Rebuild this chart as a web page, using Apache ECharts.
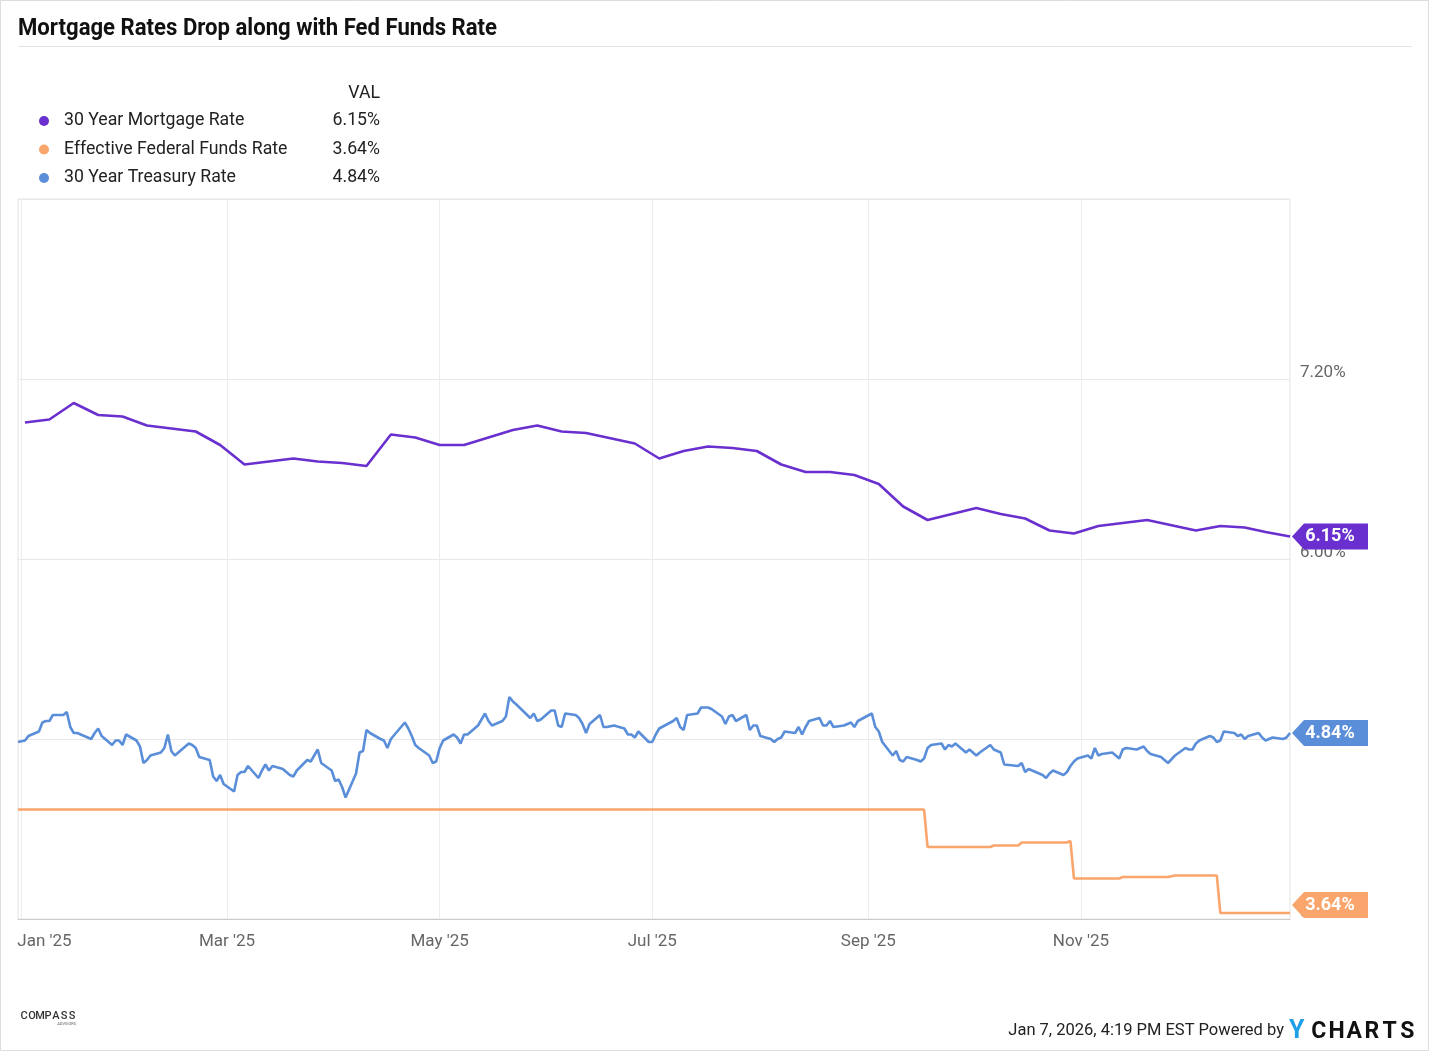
<!DOCTYPE html>
<html>
<head>
<meta charset="utf-8">
<script src="https://cdn.jsdelivr.net/npm/echarts@6/dist/echarts.min.js"></script>
<style>html,body{margin:0;padding:0;background:#fff}#c{width:1430px;height:1052px}</style>
</head>
<body>
<div id="c"></div>
<script>
// ---------------- DATA ----------------
const seriesNames = ['30 Year Mortgage Rate', 'Effective Federal Funds Rate', '30 Year Treasury Rate'];

const mortgageDates = [
 '2025-01-02','2025-01-09','2025-01-16','2025-01-23','2025-01-30',
 '2025-02-06','2025-02-13','2025-02-20','2025-02-27',
 '2025-03-06','2025-03-13','2025-03-20','2025-03-27',
 '2025-04-03','2025-04-10','2025-04-17','2025-04-24',
 '2025-05-01','2025-05-08','2025-05-15','2025-05-22','2025-05-29',
 '2025-06-05','2025-06-12','2025-06-18','2025-06-26',
 '2025-07-03','2025-07-10','2025-07-17','2025-07-24','2025-07-31',
 '2025-08-07','2025-08-14','2025-08-21','2025-08-28',
 '2025-09-04','2025-09-11','2025-09-18','2025-09-25',
 '2025-10-02','2025-10-09','2025-10-16','2025-10-23','2025-10-30',
 '2025-11-06','2025-11-13','2025-11-20','2025-11-26',
 '2025-12-04','2025-12-11','2025-12-18','2025-12-24','2025-12-31'
];
const mortgageValues = [
 6.91,6.93,7.04,6.96,6.95,
 6.89,6.87,6.85,6.76,
 6.63,6.65,6.67,6.65,
 6.64,6.62,6.83,6.81,
 6.76,6.76,6.81,6.86,6.89,
 6.85,6.84,6.81,6.77,
 6.67,6.72,6.75,6.74,6.72,
 6.63,6.58,6.58,6.56,
 6.50,6.35,6.26,6.30,
 6.34,6.30,6.27,6.19,6.17,
 6.22,6.24,6.26,6.23,
 6.19,6.22,6.21,6.18,6.15
];

const fedFundsPoints = [
 ['2024-12-31',4.33],['2025-09-17',4.33],['2025-09-18',4.08],['2025-10-06',4.08],
 ['2025-10-07',4.09],['2025-10-14',4.09],['2025-10-15',4.11],['2025-10-28',4.11],
 ['2025-10-29',4.12],['2025-10-30',3.87],['2025-11-12',3.87],['2025-11-13',3.88],
 ['2025-11-26',3.88],['2025-11-28',3.89],['2025-12-10',3.89],['2025-12-11',3.64],
 ['2025-12-31',3.64]
];

const treasuryPoints = [
 ['2024-12-31',4.78],
 ['2025-01-02',4.79],['2025-01-03',4.82],['2025-01-06',4.85],['2025-01-07',4.91],['2025-01-08',4.92],['2025-01-09',4.92],
 ['2025-01-10',4.96],['2025-01-13',4.96],['2025-01-14',4.98],['2025-01-15',4.88],['2025-01-16',4.84],['2025-01-17',4.84],
 ['2025-01-21',4.80],['2025-01-22',4.84],['2025-01-23',4.87],['2025-01-24',4.82],['2025-01-27',4.76],['2025-01-28',4.79],
 ['2025-01-29',4.79],['2025-01-30',4.76],['2025-01-31',4.83],
 ['2025-02-03',4.79],['2025-02-04',4.75],['2025-02-05',4.64],['2025-02-06',4.66],['2025-02-07',4.69],['2025-02-10',4.71],
 ['2025-02-11',4.74],['2025-02-12',4.83],['2025-02-13',4.72],['2025-02-14',4.69],['2025-02-18',4.77],['2025-02-19',4.76],
 ['2025-02-20',4.74],['2025-02-21',4.68],['2025-02-24',4.66],['2025-02-25',4.55],['2025-02-26',4.52],['2025-02-27',4.56],
 ['2025-02-28',4.50],
 ['2025-03-03',4.45],['2025-03-04',4.56],['2025-03-05',4.58],['2025-03-06',4.58],['2025-03-07',4.62],['2025-03-10',4.54],
 ['2025-03-11',4.59],['2025-03-12',4.63],['2025-03-13',4.59],['2025-03-14',4.62],['2025-03-17',4.60],['2025-03-18',4.58],
 ['2025-03-19',4.56],['2025-03-20',4.55],['2025-03-21',4.59],['2025-03-24',4.66],['2025-03-25',4.65],['2025-03-26',4.69],
 ['2025-03-27',4.73],['2025-03-28',4.64],['2025-03-31',4.59],
 ['2025-04-01',4.52],['2025-04-02',4.53],['2025-04-03',4.48],['2025-04-04',4.41],['2025-04-07',4.57],['2025-04-08',4.71],
 ['2025-04-09',4.72],['2025-04-10',4.86],['2025-04-11',4.84],['2025-04-14',4.80],['2025-04-15',4.79],['2025-04-16',4.74],
 ['2025-04-17',4.80],['2025-04-21',4.91],['2025-04-22',4.87],['2025-04-23',4.82],['2025-04-24',4.76],['2025-04-25',4.74],
 ['2025-04-28',4.69],['2025-04-29',4.64],['2025-04-30',4.65],
 ['2025-05-01',4.74],['2025-05-02',4.79],['2025-05-05',4.83],['2025-05-06',4.81],['2025-05-07',4.77],['2025-05-08',4.83],
 ['2025-05-09',4.83],['2025-05-12',4.89],['2025-05-13',4.93],['2025-05-14',4.97],['2025-05-15',4.92],['2025-05-16',4.89],
 ['2025-05-19',4.92],['2025-05-20',4.95],['2025-05-21',5.08],['2025-05-22',5.05],['2025-05-23',5.03],['2025-05-27',4.94],
 ['2025-05-28',4.97],['2025-05-29',4.92],['2025-05-30',4.93],
 ['2025-06-02',4.99],['2025-06-03',4.99],['2025-06-04',4.89],['2025-06-05',4.88],['2025-06-06',4.97],['2025-06-09',4.96],
 ['2025-06-10',4.94],['2025-06-11',4.90],['2025-06-12',4.84],['2025-06-13',4.90],['2025-06-16',4.96],['2025-06-17',4.88],
 ['2025-06-18',4.88],['2025-06-20',4.89],['2025-06-23',4.87],['2025-06-24',4.83],['2025-06-25',4.83],['2025-06-26',4.81],
 ['2025-06-27',4.85],['2025-06-30',4.78],
 ['2025-07-01',4.78],['2025-07-02',4.83],['2025-07-03',4.87],['2025-07-07',4.92],['2025-07-08',4.94],['2025-07-09',4.88],
 ['2025-07-10',4.86],['2025-07-11',4.96],['2025-07-14',4.97],['2025-07-15',5.01],['2025-07-16',5.01],['2025-07-17',5.01],
 ['2025-07-18',5.00],['2025-07-21',4.95],['2025-07-22',4.90],['2025-07-23',4.95],['2025-07-24',4.96],['2025-07-25',4.92],
 ['2025-07-28',4.96],['2025-07-29',4.86],['2025-07-30',4.89],['2025-07-31',4.89],
 ['2025-08-01',4.82],['2025-08-04',4.80],['2025-08-05',4.78],['2025-08-06',4.80],['2025-08-07',4.81],['2025-08-08',4.85],
 ['2025-08-11',4.84],['2025-08-12',4.88],['2025-08-13',4.83],['2025-08-14',4.88],['2025-08-15',4.92],['2025-08-18',4.94],
 ['2025-08-19',4.89],['2025-08-20',4.89],['2025-08-21',4.92],['2025-08-22',4.88],['2025-08-25',4.89],['2025-08-26',4.90],
 ['2025-08-27',4.91],['2025-08-28',4.88],['2025-08-29',4.92],
 ['2025-09-02',4.97],['2025-09-03',4.88],['2025-09-04',4.85],['2025-09-05',4.78],['2025-09-08',4.69],['2025-09-09',4.72],
 ['2025-09-10',4.66],['2025-09-11',4.65],['2025-09-12',4.68],['2025-09-15',4.66],['2025-09-16',4.65],['2025-09-17',4.67],
 ['2025-09-18',4.74],['2025-09-19',4.76],['2025-09-22',4.77],['2025-09-23',4.73],['2025-09-24',4.76],['2025-09-25',4.75],
 ['2025-09-26',4.77],['2025-09-29',4.71],['2025-09-30',4.73],
 ['2025-10-01',4.71],['2025-10-02',4.69],['2025-10-03',4.71],['2025-10-06',4.76],['2025-10-07',4.73],['2025-10-08',4.72],
 ['2025-10-09',4.71],['2025-10-10',4.63],['2025-10-14',4.62],['2025-10-15',4.64],['2025-10-16',4.58],['2025-10-17',4.60],
 ['2025-10-20',4.57],['2025-10-21',4.56],['2025-10-22',4.54],['2025-10-23',4.57],['2025-10-24',4.59],['2025-10-27',4.56],
 ['2025-10-28',4.58],['2025-10-29',4.62],['2025-10-30',4.65],['2025-10-31',4.67],
 ['2025-11-03',4.69],['2025-11-04',4.67],['2025-11-05',4.74],['2025-11-06',4.69],['2025-11-07',4.70],['2025-11-10',4.71],
 ['2025-11-12',4.67],['2025-11-13',4.73],['2025-11-14',4.74],['2025-11-17',4.73],['2025-11-18',4.74],['2025-11-19',4.75],
 ['2025-11-20',4.72],['2025-11-21',4.70],['2025-11-24',4.68],['2025-11-25',4.66],['2025-11-26',4.64],['2025-11-28',4.69],
 ['2025-12-01',4.74],['2025-12-02',4.73],['2025-12-03',4.73],['2025-12-04',4.77],['2025-12-05',4.79],['2025-12-08',4.82],
 ['2025-12-09',4.81],['2025-12-10',4.78],['2025-12-11',4.79],['2025-12-12',4.85],['2025-12-15',4.84],['2025-12-16',4.82],
 ['2025-12-17',4.83],['2025-12-18',4.80],['2025-12-19',4.82],['2025-12-22',4.84],['2025-12-23',4.81],['2025-12-24',4.79],
 ['2025-12-26',4.81],['2025-12-29',4.80],['2025-12-30',4.81],['2025-12-31',4.84]
];

const xAxisRange = ['2024-12-31', '2025-12-31'];
const xTickDates = ['2025-01-01','2025-03-01','2025-05-01','2025-07-01','2025-09-01','2025-11-01'];
const monthNames = ['Jan','Feb','Mar','Apr','May','Jun','Jul','Aug','Sep','Oct','Nov','Dec'];
const yMin = 3.6, yMax = 8.4, yStep = 1.2;

const titleText = 'Mortgage Rates Drop along with Fed Funds Rate';
const footerText = 'Jan 7, 2026, 4:19 PM EST Powered by';

// ---------------- STYLE ----------------
const colors = ['#6a2fcf', '#f9a56c', '#5a8ed9'];
const FONT = 'Roboto';
const GRID = { left: 18, right: 140, top: 199, bottom: 133 };
const CH = 1052;
const TAG_H = 26;

function ts(s) { const p = s.split('-').map(Number); return new Date(p[0], p[1] - 1, p[2]).getTime(); }
function textWidth(text, font) {
  const t = new echarts.graphic.Text({ style: { text: text, font: font } });
  return t.getBoundingRect().width;
}

const mortgageData = mortgageDates.map((d, i) => [ts(d), mortgageValues[i]]);
const fedData = fedFundsPoints.map(p => [ts(p[0]), p[1]]);
const treasuryData = treasuryPoints.map(p => [ts(p[0]), p[1]]);
const allData = [mortgageData, fedData, treasuryData];
const lastVals = allData.map(a => a[a.length - 1][1]);
const tickTs = xTickDates.map(ts);

const tagPath = 'path://M0,13L12,0L76,0L76,26L12,26Z';

function makeSeries(i, dy) {
  const data = allData[i];
  const last = data[data.length - 1];
  return {
    name: seriesNames[i],
    type: 'line',
    data: data,
    showSymbol: false,
    symbol: 'none',
    clip: false,
    lineStyle: { width: 2.6, color: colors[i] },
    itemStyle: { color: colors[i] },
    emphasis: { disabled: true },
    markPoint: {
      silent: true,
      symbol: tagPath,
      symbolSize: [76, TAG_H],
      symbolOffset: [40, dy || 0],
      symbolKeepAspect: false,
      itemStyle: { color: colors[i] },
      label: {
        show: true, position: 'inside', color: '#fff', fontFamily: FONT,
        fontWeight: 'bold', fontSize: 18,
        formatter: last[1].toFixed(2) + '%'
      },
      data: [{ coord: [last[0], last[1]], value: last[1] }]
    }
  };
}

let titleScale = 0.9;
try { titleScale = 479 / textWidth(titleText, 'bold 23px ' + FONT); } catch (e) {}
const titleFont = 'bold 23px ' + FONT;
const footerFont = '16.5px ' + FONT;

const chart = echarts.init(document.getElementById('c'), null, { renderer: 'canvas' });
chart.setOption({
  animation: false,
  backgroundColor: '#ffffff',
  textStyle: { fontFamily: FONT },
  grid: { left: GRID.left, right: GRID.right, top: GRID.top, bottom: GRID.bottom, containLabel: false, outerBoundsMode: 'none',
          show: true, borderColor: '#e4e4e4', borderWidth: 1 },
  legend: {
    orient: 'vertical', left: 39, top: 111, padding: 0, itemGap: 8.5,
    icon: 'circle', itemWidth: 10, itemHeight: 10, selectedMode: false,
    data: seriesNames,
    formatter: function (name) {
      const i = seriesNames.indexOf(name);
      return '{g| }{n|' + name + '}{v|' + lastVals[i].toFixed(2) + '%}';
    },
    textStyle: {
      fontFamily: FONT, fontSize: 17.7, color: '#222', lineHeight: 20,
      rich: {
        g: { width: 10, fontSize: 17.7, height: 20, lineHeight: 20 },
        n: { width: 256, fontSize: 17.7, height: 20, lineHeight: 20, color: '#222', fontFamily: FONT },
        v: { width: 60, align: 'right', fontSize: 17.7, height: 20, lineHeight: 20, color: '#222', fontFamily: FONT }
      }
    }
  },
  xAxis: {
    type: 'value',
    min: ts(xAxisRange[0]), max: ts(xAxisRange[1]),
    axisLine: { show: true, lineStyle: { color: '#cccccc', width: 1 } },
    axisTick: { show: false, customValues: tickTs },
    splitLine: { show: true, lineStyle: { color: '#ececec', width: 1 } },
    axisLabel: {
      customValues: tickTs,
      margin: 14, color: '#666', fontSize: 17, fontFamily: FONT,
      formatter: function (v) {
        const d = new Date(v);
        const s = monthNames[d.getMonth()] + " '" + String(d.getFullYear()).slice(2);
        return v === tickTs[0] ? '{f|' + s + '}' : s;
      },
      rich: { f: { padding: [0, 0, 0, 46], fontSize: 17, color: '#666', fontFamily: FONT } }
    }
  },
  yAxis: {
    type: 'value', position: 'right',
    min: yMin, max: yMax, interval: yStep,
    axisLine: { show: false }, axisTick: { show: false },
    splitLine: { show: true, lineStyle: { color: '#e8e8e8', width: 1 } },
    axisLabel: {
      showMaxLabel: false, margin: 10, color: '#666', fontSize: 17, fontFamily: FONT,
      verticalAlign: 'bottom', lineHeight: 13,
      formatter: v => v.toFixed(2) + '%'
    }
  },
  graphic: [
    { type: 'rect', silent: true, z: -10, shape: { x: 0.5, y: 0.5, width: 1428, height: 1050 },
      style: { fill: 'none', stroke: '#dddddd', lineWidth: 1 } },
    { type: 'text', x: 18, y: 29, scaleX: titleScale, silent: true,
      style: { text: titleText, font: titleFont, fill: '#111', textAlign: 'left', textVerticalAlign: 'middle' } },
    { type: 'line', silent: true, shape: { x1: 18, y1: 46.5, x2: 1412, y2: 46.5 },
      style: { stroke: '#e3e3e3', lineWidth: 1 } },
    { type: 'text', x: 380, y: 94, silent: true,
      style: { text: 'VAL', font: '17.7px ' + FONT, fill: '#222', textAlign: 'right', textVerticalAlign: 'middle' } },
    { type: 'text', x: 1284, y: 1031, silent: true,
      style: { text: footerText, font: footerFont, fill: '#222', textAlign: 'right', textVerticalAlign: 'middle' } },
    { type: 'text', x: 1289, y: 1032, silent: true,
      style: { text: 'Y', font: 'bold 25px ' + FONT, fill: '#1f9fe8', textAlign: 'left', textVerticalAlign: 'middle' } },
    { type: 'text', x: 1310, y: 1032, silent: true,
      style: { text: '{a|C}{a|H}{a|A}{a|R}{a|T}{a|S}', font: 'bold 23px ' + FONT, fill: '#111',
               textAlign: 'left', textVerticalAlign: 'middle',
               rich: { a: { width: 17.7, align: 'center', fontSize: 23, fontWeight: 'bold', fontFamily: FONT, fill: '#111' } } } },
    { type: 'text', x: 20, y: 1016, silent: true,
      style: { text: '{c|C}{c|O}{c|M}{c|P}{c|A}{c|S}{c|S}', font: '11px ' + FONT, fill: '#333',
               textAlign: 'left', textVerticalAlign: 'middle',
               rich: { c: { width: 8, align: 'center', fontSize: 11, fontWeight: 500, fontFamily: FONT, fill: '#333' } } } },
    { type: 'text', x: 76, y: 1024, silent: true,
      style: { text: 'ADVISORS', font: '4px ' + FONT, fill: '#666', textAlign: 'right', textVerticalAlign: 'middle' } }
  ],
  series: [makeSeries(0), makeSeries(1), makeSeries(2)]
});

// keep end tags inside the plot area vertically
const plotBottom = CH - GRID.bottom - 1, plotTop = GRID.top + 1;
const shifted = allData.map((data, i) => {
  const last = data[data.length - 1];
  const py = chart.convertToPixel({ gridIndex: 0 }, last)[1];
  let dy = 0;
  if (py + TAG_H / 2 > plotBottom) dy = plotBottom - TAG_H / 2 - py;
  if (py - TAG_H / 2 < plotTop) dy = plotTop + TAG_H / 2 - py;
  return makeSeries(i, dy);
});
chart.setOption({ series: shifted });
</script>
</body>
</html>
